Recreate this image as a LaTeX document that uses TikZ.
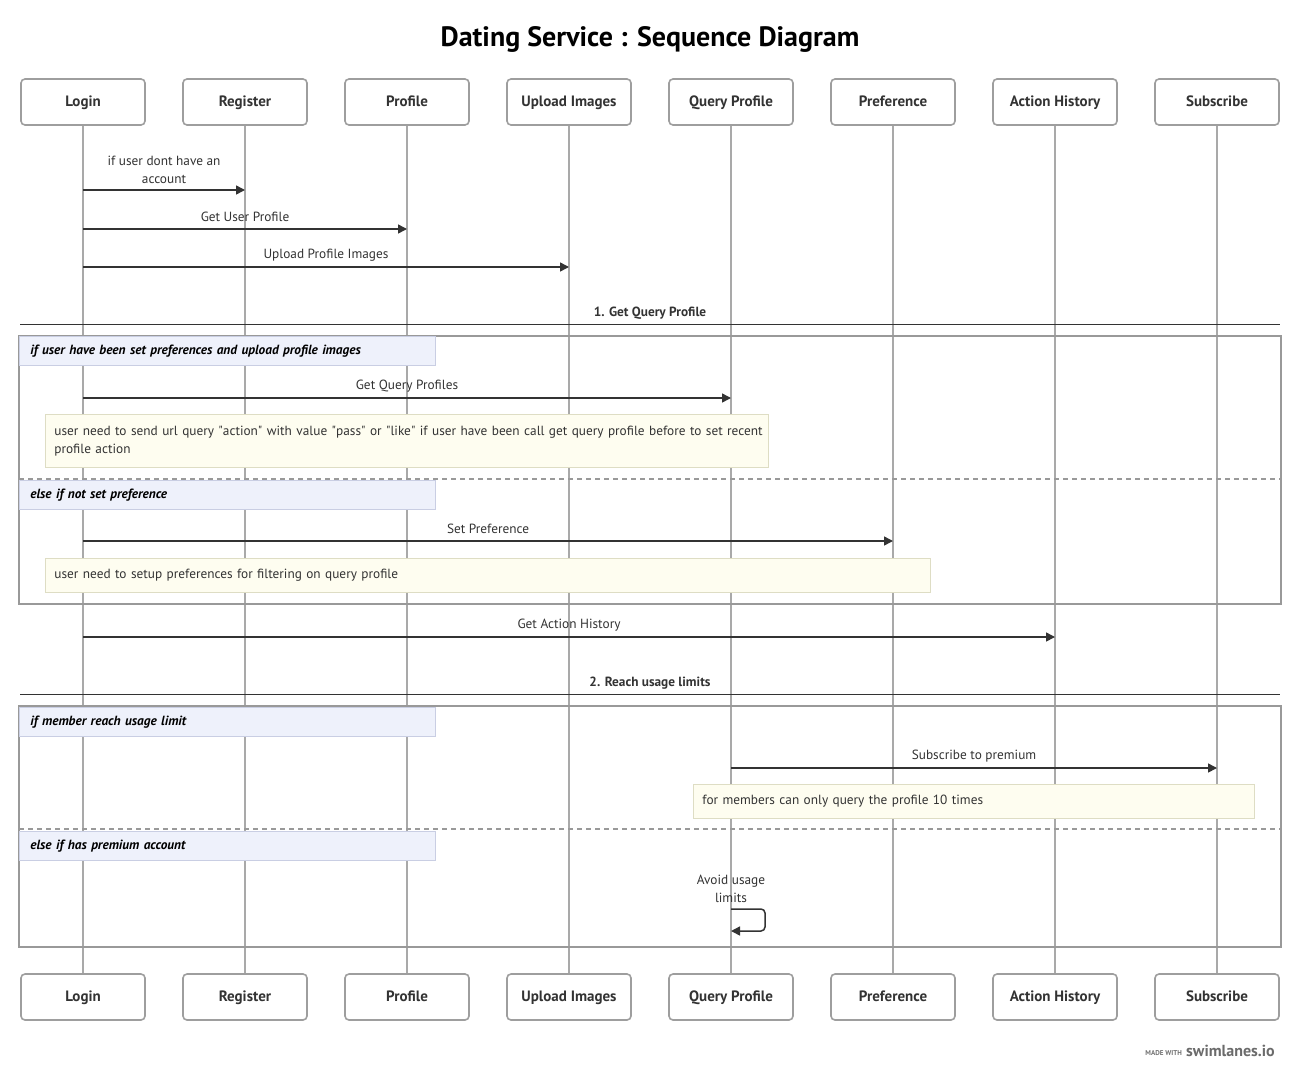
\documentclass[tikz,border=0pt]{standalone}
\usepackage{fontspec}
\setmainfont{PT Sans}
\usetikzlibrary{arrows.meta}
\definecolor{txt}{HTML}{333333}
\definecolor{lifec}{HTML}{A9A9A9}
\definecolor{boxc}{HTML}{9E9E9E}
\definecolor{framec}{HTML}{999999}
\definecolor{lblfill}{HTML}{EEF1FB}
\definecolor{lbldraw}{HTML}{C9CEE3}
\definecolor{notefill}{HTML}{FEFDF0}
\definecolor{notedraw}{HTML}{DEDDC4}
\newcommand{\qq}{\textquotedbl}
\tikzset{
  actor/.style={draw=boxc, line width=1.6pt, rounded corners=4pt, fill=white,
    minimum width=124pt, minimum height=46pt, text height=11pt, text depth=2pt,
    font=\fontsize{15}{18}\selectfont\bfseries, text=txt},
  life/.style={draw=lifec, line width=1.8pt},
  msg/.style={draw=txt, line width=1.5pt, -{Triangle[length=9pt,width=9pt]}},
  mlabel/.style={font=\fontsize{13.3}{18}\selectfont, text=txt, align=center, inner sep=0pt},
  divlabel/.style={font=\fontsize{13.3}{16}\selectfont\bfseries, text=txt, inner sep=0pt},
  divline/.style={draw=txt, line width=1pt},
  frame/.style={draw=framec, line width=1.8pt},
  sepline/.style={draw=framec, line width=1.3pt, dash pattern=on 5pt off 4pt},
  flabel/.style={draw=lbldraw, line width=0.8pt, fill=lblfill, anchor=north west,
    minimum height=29pt, inner xsep=11pt, text width=394pt, align=left,
    font=\fontsize{13.3}{16}\selectfont\bfseries\itshape, text=black},
  note/.style={draw=notedraw, line width=0.8pt, fill=notefill, anchor=north west,
    inner xsep=9pt, align=left, font=\fontsize{13.3}{18}\selectfont, text=txt}
}
\begin{document}
\begin{tikzpicture}[x=1pt,y=-1pt]
\useasboundingbox[fill=white] (0,0) rectangle (1300,1081);

\node[font=\fontsize{28}{32}\selectfont\bfseries, text=black] (title) at (650,39) {Dating Service : Sequence Diagram};

% header and footer actors
\foreach \i/\n in {0/Login,1/Register,2/Profile,3/Upload Images,4/Query Profile,5/Preference,6/Action History,7/Subscribe}{
  \pgfmathsetmacro{\xx}{83+162*\i}
  \node[actor] (h\i) at (\xx,102) {\n};
  \node[actor] (f\i) at (\xx,997) {\n};
  \draw[life] (h\i.south) -- (f\i.north);
}

% messages
\draw[msg] (h0.south |- 0,190) -- (h1.south |- 0,190);
\node[mlabel] (l1) at (164,170) {if user dont have an\\account};
\draw[msg] (h0.south |- 0,229) -- (h2.south |- 0,229);
\node[mlabel] (l2) at (245,217) {Get User Profile};
\draw[msg] (h0.south |- 0,267) -- (h3.south |- 0,267);
\node[mlabel] (l3) at (326,255) {Upload Profile Images};

% divider 1
\draw[divline] (20,324) -- (1280,324);
\node[divlabel] (d1) at (650,313) {1. Get Query Profile};

% frame 1
\draw[frame] (19,336) rectangle (1281,604);
\node[flabel] (g1) at (19,336) {if user have been set preferences and upload profile images};
\draw[msg] (h0.south |- 0,398) -- (h4.south |- 0,398);
\node[mlabel] (l4) at (407,386) {Get Query Profiles};
\node[note, minimum height=53pt, text width=705pt] (n1) at (45,414) {\mbox{user need to send url query \qq action\qq{} with value \qq pass\qq{} or \qq like\qq{} if user have been call get query profile before to set recent}\\profile action};
\draw[sepline] (19,479) -- (1281,479);
\node[flabel] (g2) at (19,480) {else if not set preference};
\draw[msg] (h0.south |- 0,541) -- (h5.south |- 0,541);
\node[mlabel] (l5) at (488,529) {Set Preference};
\node[note, minimum height=34pt, text width=867pt] (n2) at (45,558) {user need to setup preferences for filtering on query profile};

% action history
\draw[msg] (h0.south |- 0,637) -- (h6.south |- 0,637);
\node[mlabel] (l6) at (569,625) {Get Action History};

% divider 2
\draw[divline] (20,694) -- (1280,694);
\node[divlabel] (d2) at (650,683) {2. Reach usage limits};

% frame 2
\draw[frame] (19,706) rectangle (1281,947);
\node[flabel] (g3) at (19,707) {if member reach usage limit};
\draw[msg] (h4.south |- 0,768) -- (h7.south |- 0,768);
\node[mlabel] (l7) at (974,756) {Subscribe to premium};
\node[note, minimum height=34pt, text width=543pt] (n3) at (693,784) {for members can only query the profile 10 times};
\draw[sepline] (19,829) -- (1281,829);
\node[flabel] (g4) at (19,831) {else if has premium account};
\node[mlabel] (l8) at (731,889) {Avoid usage\\limits};
\coordinate (lp1) at (765,909);
\coordinate (lp2) at (765,931);
\draw[msg, rounded corners=4pt] (h4.south |- 0,909) -- (lp1) -- (lp2) -- (h4.south |- 0,931);

% watermark
\node[anchor=east, inner sep=0pt, font=\fontsize{7}{8}\selectfont\bfseries, text=black!55] (wm1) at (1182,1053) {MADE WITH};
\node[anchor=west, inner sep=0pt, font=\fontsize{16}{18}\selectfont\bfseries, text=black!58] (wm2) at (1186,1051) {swimlanes.io};
\end{tikzpicture}
\end{document}
